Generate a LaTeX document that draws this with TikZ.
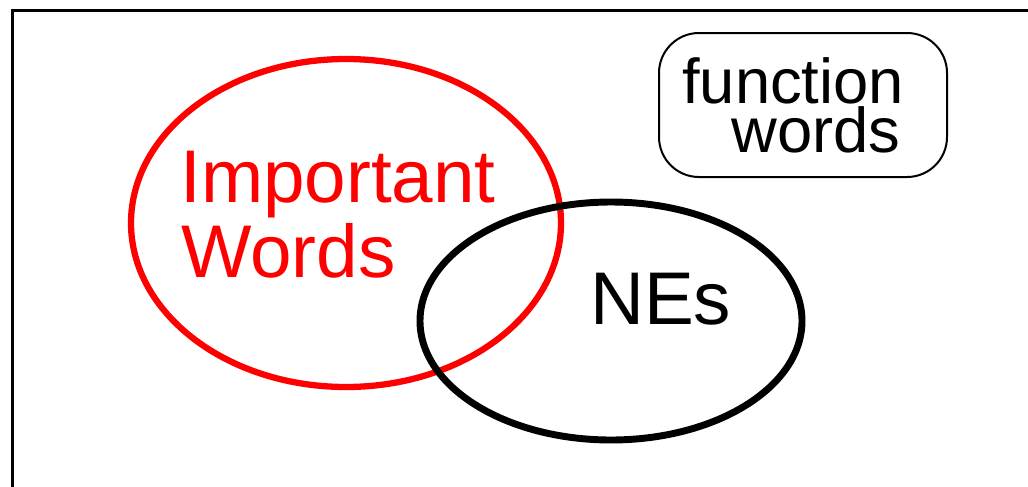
\documentclass[tikz,border=0pt]{standalone}
\usepackage{fontspec}
\setmainfont{Liberation Sans}
\begin{document}
\begin{tikzpicture}[x=0.75pt,y=-0.75pt,
  lbl/.style={inner sep=0pt,anchor=base west,font=\fontsize{56}{56}\selectfont},
  flbl/.style={inner sep=0pt,anchor=base west,font=\fontsize{47.5}{47.5}\selectfont}]
\useasboundingbox (0,0) rectangle (1028,486);
% frame
\draw[line width=2.25pt] (12,500) -- (12,10) -- (1040,10);
% red ellipse
\draw[red,line width=4.7pt] (346,223) ellipse [x radius=215, y radius=164];
% black ellipse
\draw[black,line width=5.2pt] (611,321) ellipse [x radius=191, y radius=119];
% labels
\node[lbl,text=red] (imp) at (180,202) {Important};
\node[lbl,text=red] (wrd) at (181,277) {Words};
\node[lbl] (ne) at (590,324) {NEs};
% function words box
\draw[line width=1.5pt,rounded corners=30pt] (659,33) rectangle (947,177);
\node[flbl] (fn) at (682,103) {function};
\node[flbl] (fw) at (731,152) {words};
\end{tikzpicture}
\end{document}
